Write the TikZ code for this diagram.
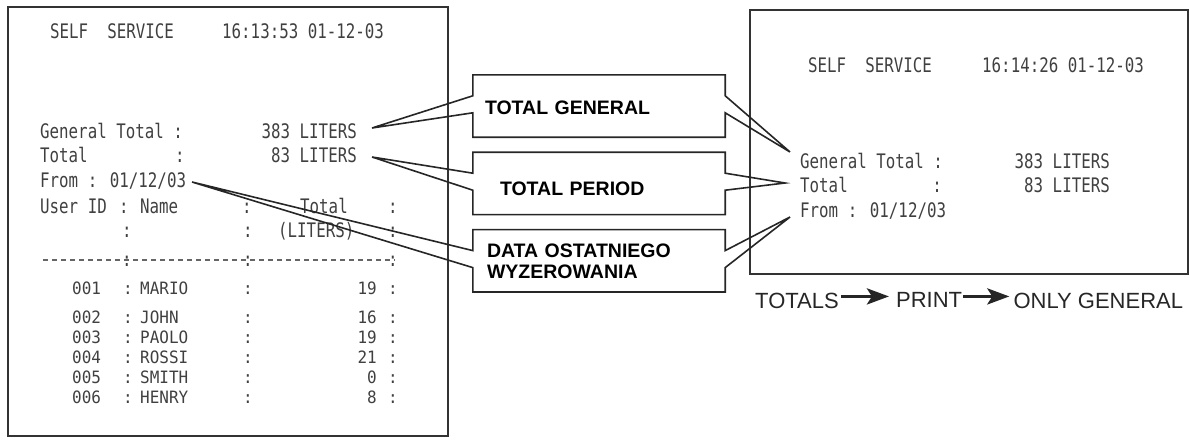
\documentclass[tikz,border=0pt]{standalone}
\usepackage{fontspec}
\setmainfont{Liberation Sans}
\newfontfamily\receipt[FakeStretch=0.79]{DejaVu Sans Mono}
\newfontfamily\receiptrow[FakeStretch=0.94]{DejaVu Sans Mono}
\usetikzlibrary{positioning,calc,arrows.meta}

\begin{document}
\begin{tikzpicture}[x=1pt,y=-1pt,
    rc/.style={font=\receipt\fontsize{20}{22}\selectfont,text=black!75,inner sep=0pt,anchor=base west},
    rcr/.style={rc,anchor=base east},
    rcc/.style={rc,anchor=base},
    row/.style={font=\receiptrow\fontsize{17}{18}\selectfont},
    frame/.style={draw=black!80,line width=1.6pt},
    callout/.style={minimum width=252pt,minimum height=62pt,inner ysep=0pt,align=left,
        font=\bfseries\fontsize{19.5}{21}\selectfont},
    pointer/.style={draw=black!85,line width=1.6pt,line join=miter},
    big/.style={font=\fontsize{22}{24}\selectfont,text=black!85,inner sep=0pt},
    bigarrow/.style={draw=black!85,line width=3.5pt,-{Stealth[length=22pt,width=16pt,inset=5pt]}},
    node distance=15pt]
    \useasboundingbox (0,0) rectangle (1190,439);

    % printed receipts
    \draw[frame] (8,7) rectangle (448,436);
    \draw[frame] (750,10) rectangle (1188,274);

    % left receipt
    \node[rc] (selfL) at (50,38) {SELF\ \ SERVICE};
    \node[rc] (timeL) at (222,38) {16:13:53 01-12-03};
    \node[rc] (genL) at (40,138) {General Total :};
    \node[rcr] (litgL) at (357,138) {383 LITERS};
    \node[rc] (totL) at (40,162) {Total};
    \node[rcc] (totcL) at (180,162) {:};
    \node[rcr] (littL) at (357,162) {83 LITERS};
    \node[rc] (fromL) at (40,187) {From : 01/12/03};
    \node[rc] (user) at (40,213) {User ID};
    \node[rcc] (hc1) at (124,213) {:};
    \node[rc] (name) at (140,213) {Name};
    \node[rcc] (hc2) at (247,213) {:};
    \node[rc] (total) at (300,213) {Total};
    \node[rcc] (hc3) at (393,213) {:};
    \node[rcc] (hd1) at (127,237) {:};
    \node[rcc] (hd2) at (248,237) {:};
    \node[rc] (liters) at (278,237) {(LITERS)};
    \node[rcc] (hd3) at (393,237) {:};
    \draw[black!60,line width=1.2pt,dash pattern=on 5pt off 4pt] (43,260) -- (395,260);
    \node[rcc] (dc1) at (127,266) {:};
    \node[rcc] (dc2) at (248,266) {:};
    \node[rcc] (dc3) at (393,266) {:};
    \foreach \uid/\who/\lit/\yy in {001/MARIO/19/294,002/JOHN/16/323,003/PAOLO/19/343,
        004/ROSSI/21/363,005/SMITH/0/383,006/HENRY/8/403} {
        \node[rc,row] (id\uid) at (72,\yy) {\uid};
        \node[rcc,row] (ca\uid) at (128,\yy) {:};
        \node[rc,row] (who\uid) at (140,\yy) {\who};
        \node[rcc,row] (cb\uid) at (248,\yy) {:};
        \node[rcr,row] (lit\uid) at (377,\yy) {\lit};
        \node[rcc,row] (cc\uid) at (393,\yy) {:};
    }

    % right receipt
    \node[rc] (selfR) at (808,72) {SELF\ \ SERVICE};
    \node[rc] (timeR) at (982,72) {16:14:26 01-12-03};
    \node[rc] (genR) at (800,168) {General Total :};
    \node[rcr] (litgR) at (1110,168) {383 LITERS};
    \node[rc] (totR) at (800,192) {Total};
    \node[rcc] (totcR) at (937,192) {:};
    \node[rcr] (littR) at (1110,192) {83 LITERS};
    \node[rc] (fromR) at (800,217) {From : 01/12/03};

    % callouts
    \node[callout,inner xsep=12pt,text width=228pt,text height=17pt] (tg) at (599,106) {TOTAL GENERAL};
    \node[callout,inner xsep=27pt,text width=198pt,text height=24pt,below=of tg] (tp) {TOTAL PERIOD};
    \node[callout,inner xsep=14pt,text width=224pt,below=of tp] (dw) {DATA OSTATNIEGO\\WYZEROWANIA};
    \coordinate (tg-L) at (372,128);
    \coordinate (tg-R) at (790,152);
    \coordinate (tp-L) at (372,157);
    \coordinate (tp-R) at (785,183);
    \coordinate (dw-L) at (192,182);
    \coordinate (dw-R) at (790,217);
    \foreach \c in {tg,tp,dw} {
        \draw[pointer] (\c.north west) -- (\c.north east) -- ($(\c.north east)+(0,21)$)
            -- (\c-R) -- ($(\c.north east)+(0,38)$) -- (\c.south east) -- (\c.south west)
            -- ($(\c.north west)+(0,38)$) -- (\c-L) -- ($(\c.north west)+(0,21)$) -- cycle;
    }

    % menu path
    \node[big,anchor=base west] (totals) at (755,308) {TOTALS};
    \node[big,right=57pt of totals] (print) {PRINT};
    \node[big,right=51pt of print] (only) {ONLY GENERAL};
    \draw[bigarrow] ([xshift=2pt,yshift=4pt]totals.east) -- ([xshift=-7pt,yshift=4pt]print.west);
    \draw[bigarrow] ([xshift=1pt,yshift=4pt]print.east) -- ([xshift=-4pt,yshift=4pt]only.west);
\end{tikzpicture}
\end{document}
